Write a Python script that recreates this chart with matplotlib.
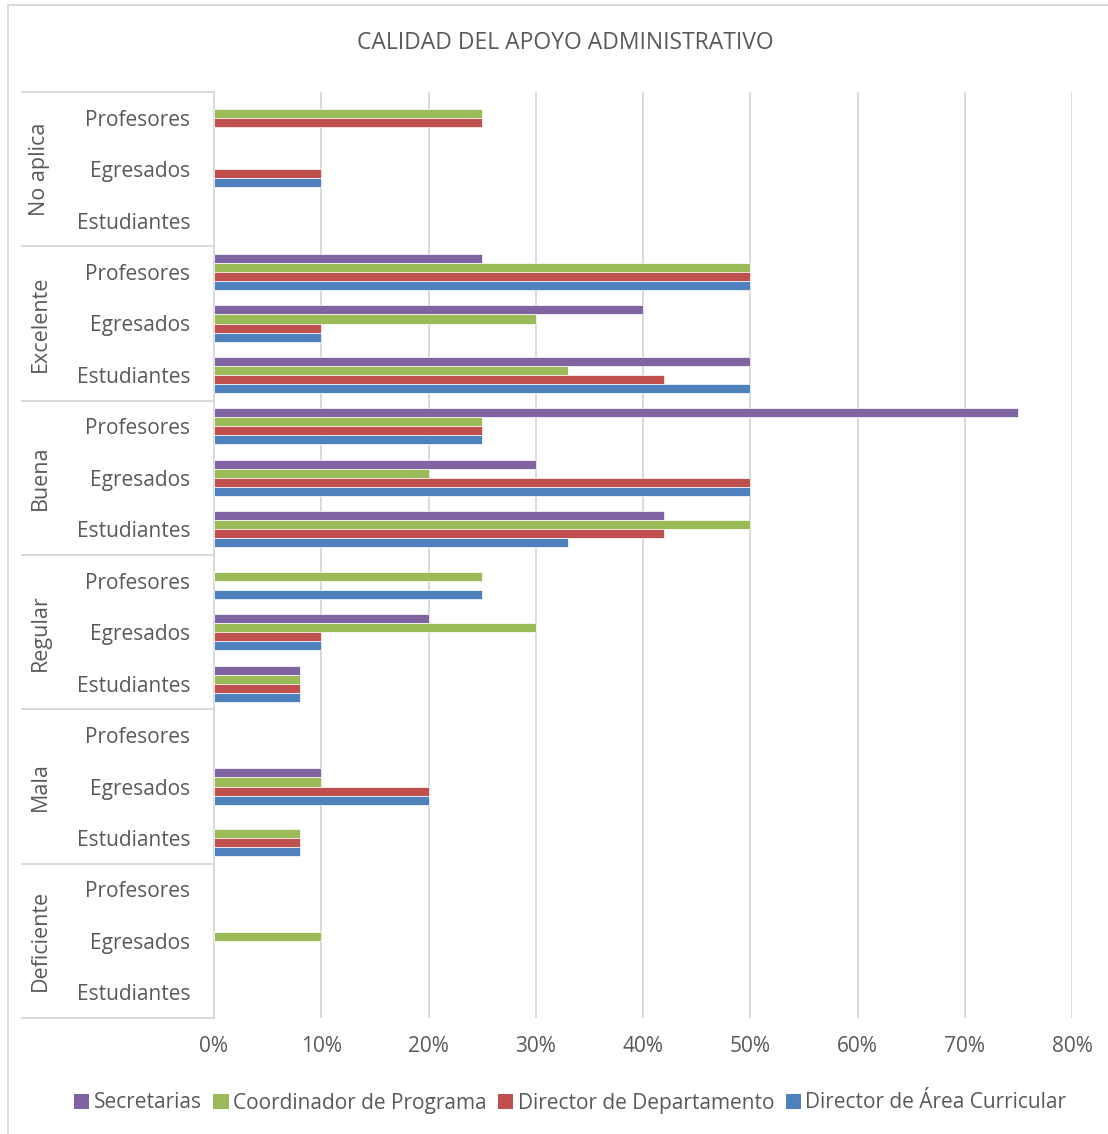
import matplotlib.pyplot as plt
from matplotlib.patches import Patch
from matplotlib.lines import Line2D
import matplotlib.transforms as mtransforms

plt.rcParams['font.family'] = ['Open Sans', 'DejaVu Sans']

# categories (top to bottom)
groups = ['No aplica', 'Excelente', 'Buena', 'Regular', 'Mala', 'Deficiente']
subcats = ['Profesores', 'Egresados', 'Estudiantes']

# values in % per group, order within group: Profesores, Egresados, Estudiantes
secretarias = [0, 0, 0,   25, 40, 50,   75, 30, 42,   0, 20, 8,   0, 10, 0,   0, 0, 0]
coordinador = [25, 0, 0,  50, 30, 33,   25, 20, 50,   25, 30, 8,  0, 10, 8,   0, 10, 0]
director_dep = [25, 10, 0, 50, 10, 42,  25, 50, 42,   0, 10, 8,   0, 20, 8,   0, 0, 0]
director_area = [0, 10, 0, 50, 10, 50,  25, 50, 33,   25, 10, 8,  0, 20, 8,   0, 0, 0]

series = [
    ('Secretarias', secretarias, '#8064A2'),
    ('Coordinador de Programa', coordinador, '#9BBB59'),
    ('Director de Departamento', director_dep, '#C0504D'),
    ('Director de Área Curricular', director_area, '#4F81BD'),
]

W, H = 1108, 1134
fig = plt.figure(figsize=(W / 100, H / 100), dpi=100)
ax = fig.add_axes([214 / W, (H - 1018) / H, (1072 - 214) / W, (1018 - 92) / H])

txt = '#595959'
grid = '#D9D9D9'
n = len(secretarias)
ypos = list(range(n))
bh = 0.175

for i, (name, vals, col) in enumerate(series):
    off = (i - 1.5) * bh
    # skip empty cells so no stray edge lines show at 0%
    ys = [y + off for y, v in zip(ypos, vals) if v > 0]
    vs = [v for v in vals if v > 0]
    ax.barh(ys, vs, height=bh, color=col, edgecolor='white',
            linewidth=0.5, zorder=3)

ax.set_xlim(0, 80)
ax.set_ylim(n - 0.5, -0.5)
ax.set_xticks(range(0, 81, 10))
ax.set_xticklabels([f'{v}%' for v in range(0, 81, 10)])
ax.set_yticks(ypos)
ax.set_yticklabels(subcats * len(groups))
ax.tick_params(axis='y', length=0, pad=17, labelsize=15, labelcolor=txt)
ax.tick_params(axis='x', length=0, pad=13, labelsize=15, labelcolor=txt)
ax.grid(axis='x', color=grid, linewidth=1.4, zorder=0)
for s in ['top', 'right', 'bottom']:
    ax.spines[s].set_visible(False)
ax.spines['left'].set_color(grid)
ax.spines['left'].set_linewidth(1.4)

# group separators and labels
tr = mtransforms.blended_transform_factory(ax.transAxes, ax.transData)
x0 = (22 - 214) / (1072 - 214)
for k in range(len(groups) + 1):
    yb = k * 3 - 0.5
    ax.add_line(Line2D([x0, 0], [yb, yb], transform=tr, color=grid,
                       linewidth=1.4, clip_on=False))
for k, g in enumerate(groups):
    ax.text((40 - 214) / (1072 - 214), k * 3 + 1, g, transform=tr,
            rotation=90, ha='center', va='center', fontsize=15.5, color=txt)

# title
fig.text(565 / W, 1 - 43 / H, 'CALIDAD DEL APOYO ADMINISTRATIVO',
         ha='center', va='center', fontsize=16.5, color=txt)

# chart border (left and top)
fig.add_artist(Line2D([8 / W, 8 / W], [0, 1 - 5 / H], color=grid, linewidth=1.4))
fig.add_artist(Line2D([8 / W, 1], [1 - 5 / H, 1 - 5 / H], color=grid, linewidth=1.4))

handles = [Patch(facecolor=c, label=nm) for nm, _, c in series]
fig.legend(handles=handles, loc='center', bbox_to_anchor=(570 / W, 1 - 1103 / H),
           ncol=4, frameon=False, fontsize=15, labelcolor=txt,
           handlelength=0.75, handleheight=0.75, handletextpad=0.2,
           columnspacing=0.55)

fig.savefig('out.png', dpi=100)
